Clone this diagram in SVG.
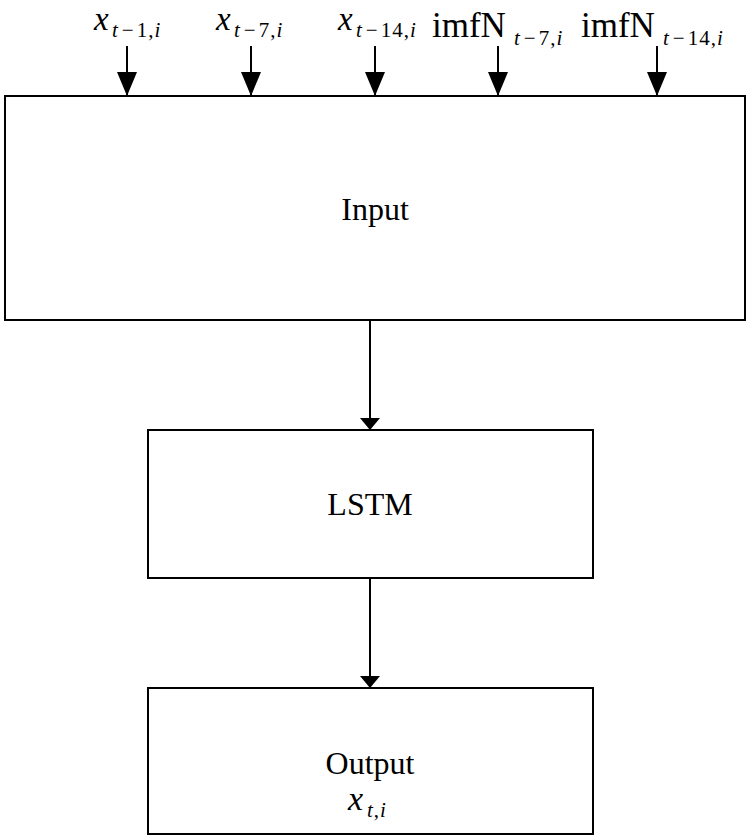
<svg xmlns="http://www.w3.org/2000/svg" width="750" height="840" viewBox="0 0 750 840">
<style>
.box{fill:#fff;stroke:#000;stroke-width:2}
.ln{stroke:#000;stroke-width:2;fill:none}
.t{font-family:"Liberation Serif","Times New Roman",serif;fill:#000}
.big{font-size:33px}
.imf{font-size:35px}
.lbl{font-size:32px}
.outx{font-size:34px}
.sub{font-size:21px;letter-spacing:1px}
.it{font-style:italic}
</style>
<defs>
<marker id="ah" markerUnits="userSpaceOnUse" markerWidth="24" markerHeight="20" refX="24" refY="10" orient="auto" viewBox="0 0 24 20">
<path d="M0,0 L24,10 L0,20 Z" fill="#000"/>
</marker>
<marker id="ahs" markerUnits="userSpaceOnUse" markerWidth="12" markerHeight="20" refX="12" refY="10" orient="auto" viewBox="0 0 12 20">
<path d="M0,0 L12,10 L0,20 Z" fill="#000"/>
</marker>
</defs>
<g id="labels">
<text class="t big" y="30"><tspan class="it" x="94">x</tspan><tspan class="sub" y="37"><tspan class="it" x="112">t</tspan><tspan dx="3">−</tspan><tspan dx="2">1,</tspan><tspan class="it">i</tspan></tspan></text>
<text class="t big" y="30"><tspan class="it" x="216">x</tspan><tspan class="sub" y="37"><tspan class="it" x="234">t</tspan><tspan dx="3">−</tspan><tspan dx="2">7,</tspan><tspan class="it">i</tspan></tspan></text>
<text class="t big" y="30"><tspan class="it" x="338">x</tspan><tspan class="sub" y="37"><tspan class="it" x="356">t</tspan><tspan dx="3">−</tspan><tspan dx="2">14,</tspan><tspan class="it">i</tspan></tspan></text>
<text class="t imf" y="37"><tspan x="432">imfN</tspan><tspan class="sub" y="45"><tspan class="it" x="514">t</tspan><tspan dx="3">−</tspan><tspan dx="2">7,</tspan><tspan class="it">i</tspan></tspan></text>
<text class="t imf" y="37"><tspan x="581">imfN</tspan><tspan class="sub" y="45"><tspan class="it" x="663">t</tspan><tspan dx="3">−</tspan><tspan dx="2">14,</tspan><tspan class="it">i</tspan></tspan></text>
</g>
<g id="input">
<rect class="box" x="5" y="96" width="740" height="224"/>
<text class="t lbl" x="375" y="220" text-anchor="middle">Input</text>
</g>
<g id="lstm">
<rect class="box" x="148" y="430" width="445" height="148"/>
<text class="t lbl" x="370" y="515" text-anchor="middle">LSTM</text>
</g>
<g id="output">
<rect class="box" x="148" y="688" width="445" height="146"/>
<text class="t lbl" x="370" y="774" text-anchor="middle">Output</text>
<text class="t outx" y="810"><tspan class="it" x="348">x</tspan><tspan class="sub" y="817"><tspan class="it" x="367">t</tspan><tspan>,</tspan><tspan class="it">i</tspan></tspan></text>
</g>
<g id="connectors">
<line class="ln" x1="127" y1="46" x2="127" y2="96" marker-end="url(#ah)"/>
<line class="ln" x1="251" y1="46" x2="251" y2="96" marker-end="url(#ah)"/>
<line class="ln" x1="375" y1="46" x2="375" y2="96" marker-end="url(#ah)"/>
<line class="ln" x1="498" y1="46" x2="498" y2="96" marker-end="url(#ah)"/>
<line class="ln" x1="657" y1="46" x2="657" y2="96" marker-end="url(#ah)"/>
<line class="ln" x1="370" y1="321" x2="370" y2="430" marker-end="url(#ahs)"/>
<line class="ln" x1="370" y1="579" x2="370" y2="688" marker-end="url(#ahs)"/>
</g>
</svg>
